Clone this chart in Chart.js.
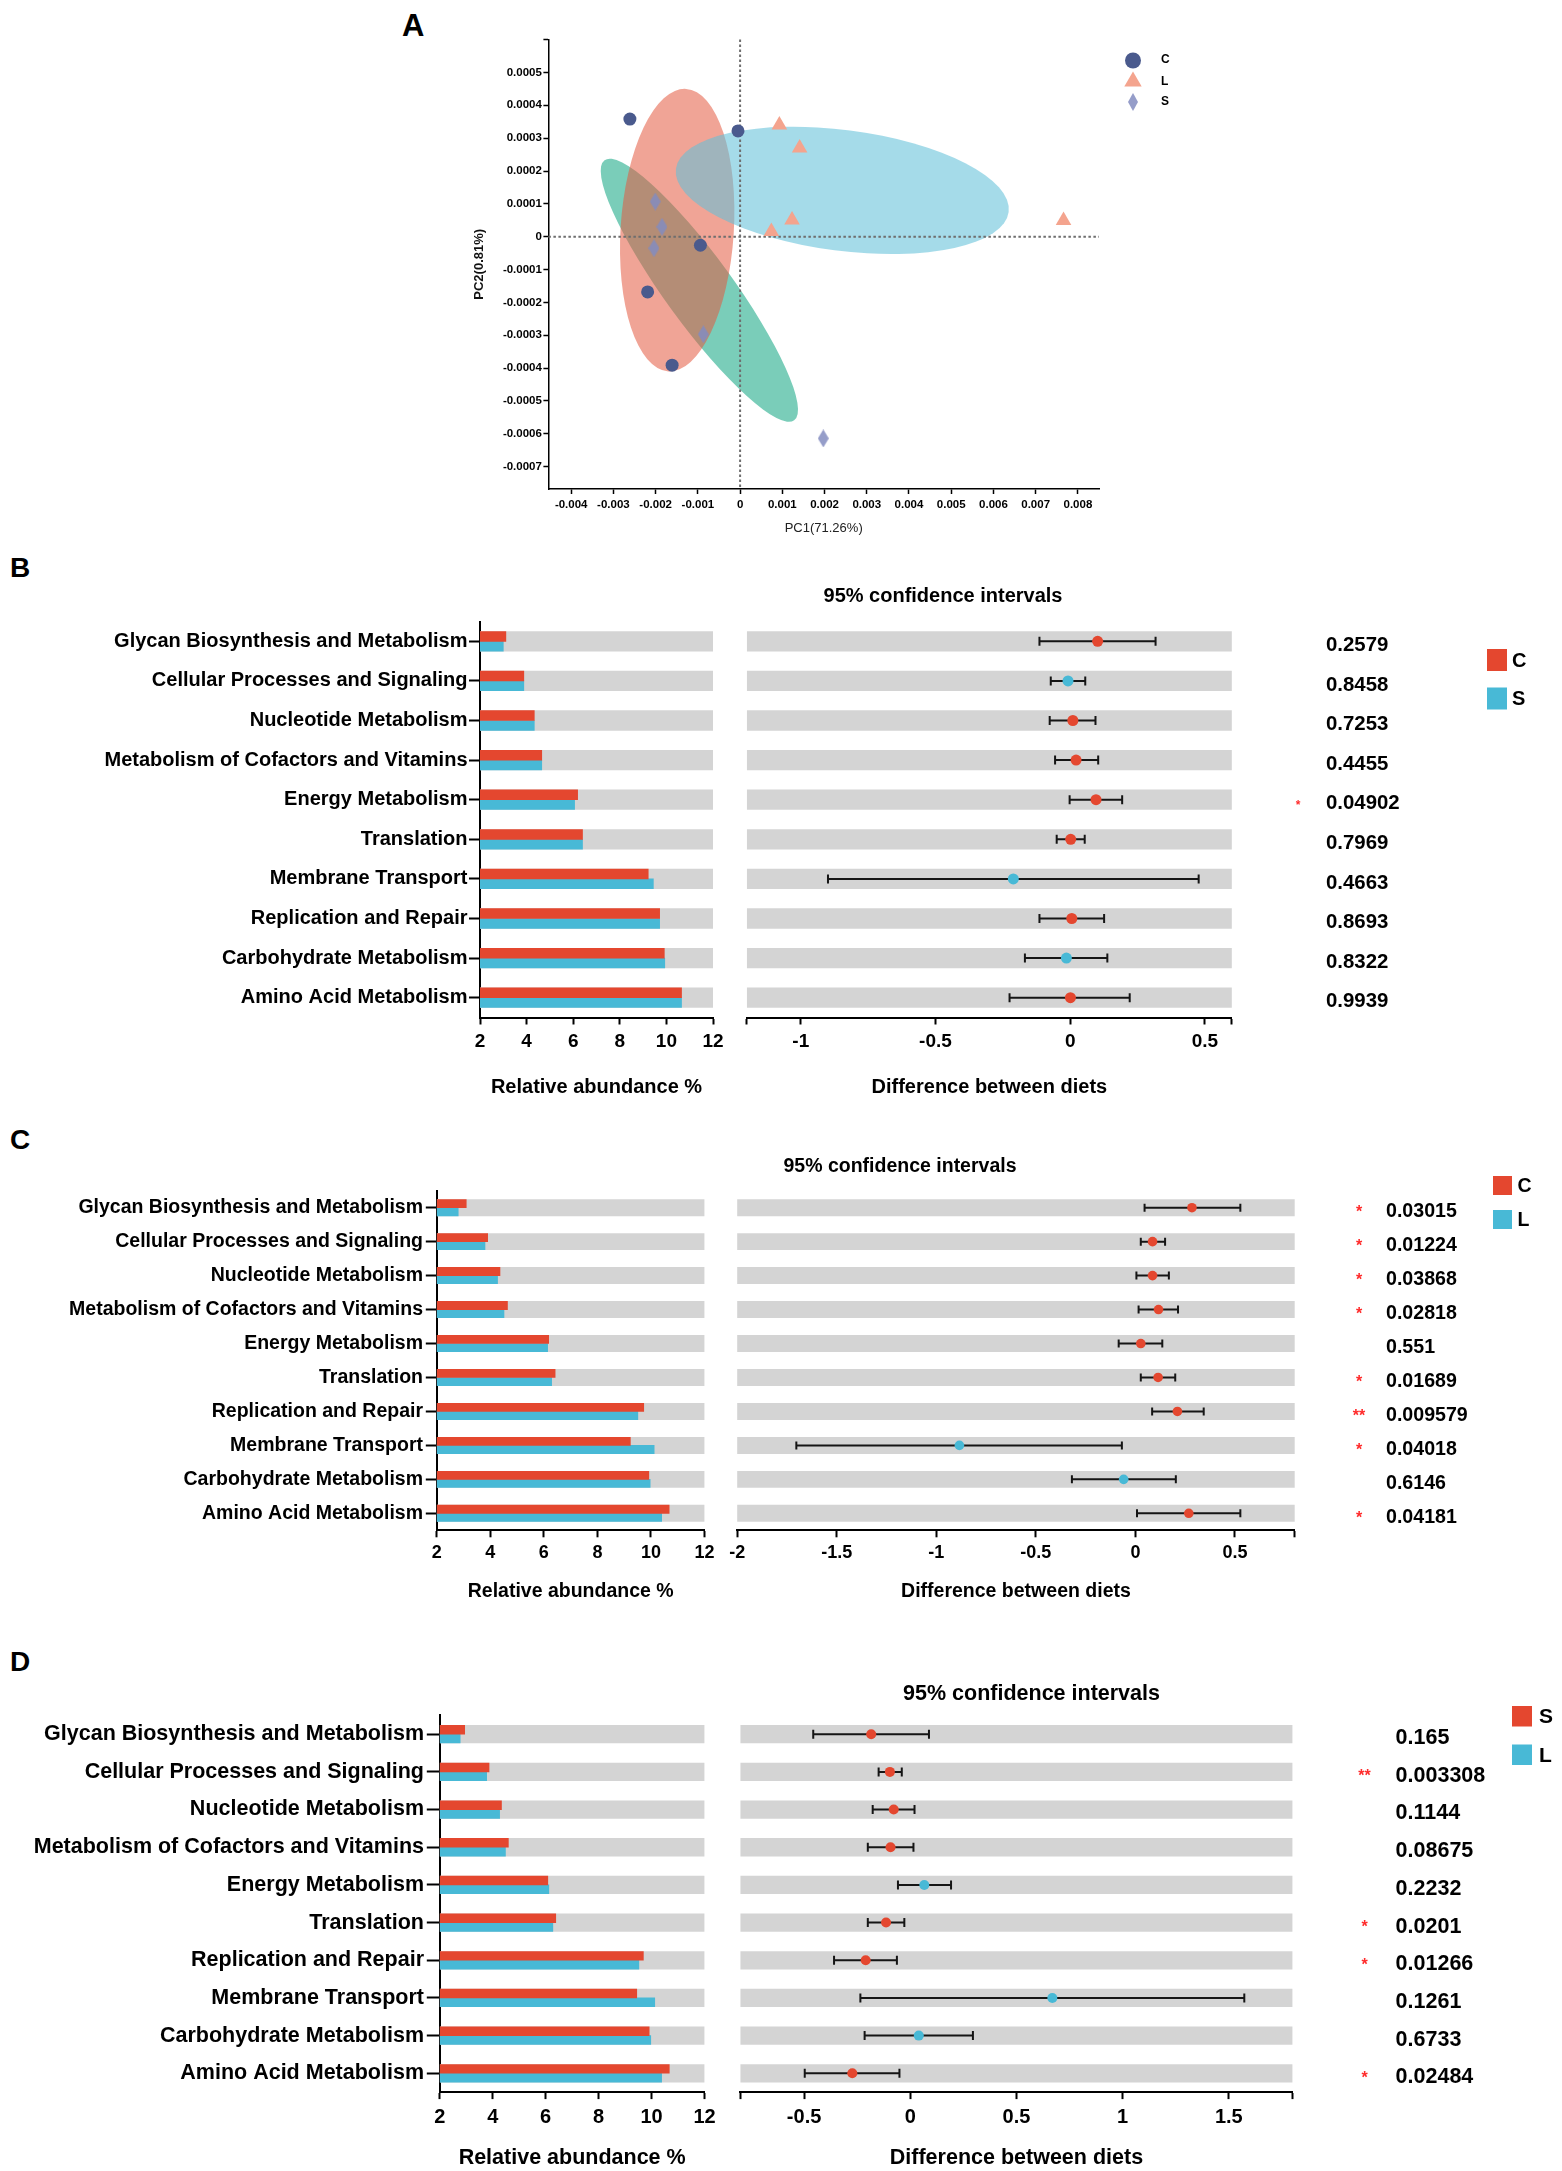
<!DOCTYPE html>
<html>
<head>
<meta charset="utf-8">
<script src="https://cdn.jsdelivr.net/npm/chart.js@4.4.0/dist/chart.umd.min.js"></script>
<style>
  html, body { margin: 0; padding: 0; background: #fff; }
  body { width: 1562px; height: 2171px; position: relative; overflow: hidden; font-family: "Liberation Sans", Arial, sans-serif; }
  .tag { position: absolute; font-weight: bold; line-height: 1; color: #000; }
</style>
</head>
<body>
<div class="tag" style="left:402px;top:10px;font-size:31px">A</div>
<div class="tag" style="left:10px;top:554px;font-size:28px">B</div>
<div class="tag" style="left:10px;top:1126px;font-size:28px">C</div>
<div class="tag" style="left:10px;top:1648px;font-size:28px">D</div>
<script>
(function () {
  "use strict";

  // ---- Panel A: PCA scores ----
  const pcaXC = [-0.00261, -0.00005, -0.00094, -0.00219, -0.00161];
  const pcaYC = [0.000358, 0.000322, -0.000026, -0.000168, -0.000391];
  const pcaXL = [0.00093, 0.00141, 0.00123, 0.00074, 0.00766];
  const pcaYL = [0.00034, 0.00027, 0.000051, 0.000016, 0.000049];
  const pcaXS = [-0.00201, -0.00185, -0.00204, -0.00087, 0.00197];
  const pcaYS = [0.000107, 0.00003, -0.000035, -0.000297, -0.000614];
  const pcaXTicks = [-0.004, -0.003, -0.002, -0.001, 0, 0.001, 0.002, 0.003, 0.004, 0.005, 0.006, 0.007, 0.008];
  const pcaYTicks = [0.0005, 0.0004, 0.0003, 0.0002, 0.0001, 0, -0.0001, -0.0002, -0.0003, -0.0004, -0.0005, -0.0006, -0.0007];
  const pcaXRange = [-0.00454, 0.0085];
  const pcaYRange = [-0.000768, 0.0006];
  // confidence ellipses: centre, end of major axis, minor/major ratio
  const ellS = { c: [-0.000965, -0.000163], tip: [0.00128, -0.000559], ratio: 0.21 };
  const ellC = { c: [-0.00149, 0.00002], tip: [-0.00128, 0.00045], ratio: 0.40 };
  const ellL = { c: [0.00242, 0.000141], tip: [0.00636, 0.0000755], ratio: 0.36 };

  // ---- Panels B-D: pathways ----
  const catsB = ["Glycan Biosynthesis and Metabolism", "Cellular Processes and Signaling", "Nucleotide Metabolism",
    "Metabolism of Cofactors and Vitamins", "Energy Metabolism", "Translation", "Membrane Transport",
    "Replication and Repair", "Carbohydrate Metabolism", "Amino Acid Metabolism"];
  const catsCD = ["Glycan Biosynthesis and Metabolism", "Cellular Processes and Signaling", "Nucleotide Metabolism",
    "Metabolism of Cofactors and Vitamins", "Energy Metabolism", "Translation", "Replication and Repair",
    "Membrane Transport", "Carbohydrate Metabolism", "Amino Acid Metabolism"];
  const abundRange = [2, 12];
  const abundTicks = [2, 4, 6, 8, 10, 12];

  // B: C vs S
  const bC = [3.11, 3.88, 4.33, 4.65, 6.19, 6.40, 9.22, 9.71, 9.91, 10.65];
  const bS = [3.00, 3.88, 4.33, 4.65, 6.06, 6.40, 9.44, 9.71, 9.93, 10.65];
  const bDiff = [0.102, -0.008, 0.010, 0.022, 0.096, 0.002, -0.211, 0.006, -0.014, 0.001];
  const bLow = [-0.114, -0.072, -0.076, -0.056, -0.002, -0.050, -0.899, -0.114, -0.168, -0.225];
  const bHigh = [0.317, 0.056, 0.094, 0.104, 0.193, 0.054, 0.477, 0.126, 0.138, 0.221];
  const bP = ["0.2579", "0.8458", "0.7253", "0.4455", "0.04902", "0.7969", "0.4663", "0.8693", "0.8322", "0.9939"];
  const bStars = ["", "", "", "", "*", "", "", "", "", ""];
  const bRange = [-1.2, 0.6];
  const bTicks = [-1, -0.5, 0, 0.5];

  // C: C vs L
  const cC = [3.10, 3.90, 4.36, 4.64, 6.18, 6.42, 9.73, 9.23, 9.92, 10.68];
  const cL = [2.80, 3.80, 4.27, 4.51, 6.14, 6.29, 9.51, 10.12, 9.97, 10.40];
  const cDiff = [0.284, 0.086, 0.086, 0.116, 0.027, 0.114, 0.211, -0.884, -0.059, 0.268];
  const cLow = [0.046, 0.027, 0.005, 0.016, -0.084, 0.027, 0.084, -1.703, -0.319, 0.008];
  const cHigh = [0.527, 0.149, 0.168, 0.214, 0.135, 0.200, 0.343, -0.068, 0.203, 0.527];
  const cP = ["0.03015", "0.01224", "0.03868", "0.02818", "0.551", "0.01689", "0.009579", "0.04018", "0.6146", "0.04181"];
  const cStars = ["*", "*", "*", "*", "", "*", "**", "*", "", "*"];
  const cRange = [-2, 0.8];
  const cTicks = [-2, -1.5, -1, -0.5, 0, 0.5];

  // D: S vs L
  const dS = [2.94, 3.86, 4.33, 4.59, 6.08, 6.38, 9.69, 9.44, 9.91, 10.67];
  const dL = [2.77, 3.77, 4.26, 4.48, 6.12, 6.27, 9.52, 10.12, 9.97, 10.38];
  const dDiff = [-0.184, -0.096, -0.078, -0.093, 0.066, -0.114, -0.210, 0.669, 0.040, -0.273];
  const dLow = [-0.457, -0.149, -0.177, -0.200, -0.058, -0.200, -0.359, -0.235, -0.215, -0.497];
  const dHigh = [0.088, -0.040, 0.020, 0.015, 0.192, -0.028, -0.063, 1.573, 0.295, -0.051];
  const dP = ["0.165", "0.003308", "0.1144", "0.08675", "0.2232", "0.0201", "0.01266", "0.1261", "0.6733", "0.02484"];
  const dStars = ["", "**", "", "", "", "*", "*", "", "", "*"];
  const dRange = [-0.8, 1.8];
  const dTicks = [-0.5, 0, 0.5, 1, 1.5];

  const FONT = '"Liberation Sans", Arial, sans-serif';
  const RED = "#e4472f";
  const BLUE = "#48b9d6";
  const BAND = "#d4d4d4";
  const PAGE_W = 1562;

  const addCanvas = (left, top, w, h) => {
    const c = document.createElement("canvas");
    c.width = w;
    c.height = h;
    c.style.cssText = "position:absolute;left:" + left + "px;top:" + top + "px;width:" + w + "px;height:" + h + "px;";
    document.body.appendChild(c);
    return c;
  };
  const bold = (size) => ({ family: FONT, size: size, weight: "bold" });

  const diamond = (w, h, color) => {
    const c = document.createElement("canvas");
    c.width = w;
    c.height = h;
    const g = c.getContext("2d");
    g.fillStyle = color;
    g.beginPath();
    g.moveTo(w / 2, 0);
    g.lineTo(w, h / 2);
    g.lineTo(w / 2, h);
    g.lineTo(0, h / 2);
    g.closePath();
    g.fill();
    return c;
  };

  // ---------- Panel A ----------
  const initPca = () => {
    const colC = "#4a5a8d", colL = "#f4a48e", colS = "rgba(130,140,192,0.85)";
    const diamondS = diamond(11, 18, colS);
    const diamondLeg = diamond(10, 18, colS);
    const ellipses = [
      [ellS, "rgba(13,164,128,0.55)"],
      [ellC, "rgba(228,90,64,0.55)"],
      [ellL, "rgba(97,192,216,0.57)"],
    ];
    const pts = (xs, ys) => xs.map((x, i) => ({ x: x, y: ys[i] }));

    const pcaPlugin = {
      id: "pcaDecor",
      beforeDatasetsDraw(chart) {
        const { ctx, chartArea, scales: { x, y } } = chart;
        ctx.save();
        ellipses.forEach(([e, color]) => {
          const cx = x.getPixelForValue(e.c[0]), cy = y.getPixelForValue(e.c[1]);
          const tx = x.getPixelForValue(e.tip[0]), ty = y.getPixelForValue(e.tip[1]);
          const a = Math.hypot(tx - cx, ty - cy);
          ctx.fillStyle = color;
          ctx.beginPath();
          ctx.ellipse(cx, cy, a, a * e.ratio, Math.atan2(ty - cy, tx - cx), 0, Math.PI * 2);
          ctx.fill();
        });
        const x0 = x.getPixelForValue(0), y0 = y.getPixelForValue(0);
        ctx.strokeStyle = "#6e6e6e";
        ctx.lineWidth = 2;
        ctx.setLineDash([2.5, 2.5]);
        ctx.beginPath();
        ctx.moveTo(x0, chartArea.top);
        ctx.lineTo(x0, chartArea.bottom);
        ctx.moveTo(chartArea.left, y0);
        ctx.lineTo(chartArea.right, y0);
        ctx.stroke();
        ctx.restore();
      },
      afterDraw(chart) {
        const ctx = chart.ctx;
        const lx = 1133 - 380, tx = 1161 - 380;
        ctx.save();
        ctx.fillStyle = colC;
        ctx.beginPath();
        ctx.arc(lx, 60.5, 8, 0, Math.PI * 2);
        ctx.fill();
        ctx.fillStyle = colL;
        ctx.beginPath();
        ctx.moveTo(lx, 81.6 - 10);
        ctx.lineTo(lx + 8.7, 81.6 + 5);
        ctx.lineTo(lx - 8.7, 81.6 + 5);
        ctx.closePath();
        ctx.fill();
        ctx.drawImage(diamondLeg, lx - 5, 102 - 9);
        ctx.fillStyle = "#000";
        ctx.font = "bold 12px " + FONT;
        ctx.textBaseline = "middle";
        ctx.fillText("C", tx, 60);
        ctx.fillText("L", tx, 81.6);
        ctx.fillText("S", tx, 102);
        ctx.restore();
      },
    };

    new Chart(addCanvas(380, 0, 820, 545), {
      type: "scatter",
      data: {
        datasets: [
          { label: "C", data: pts(pcaXC, pcaYC), pointStyle: "circle", pointRadius: 6.5, backgroundColor: colC, pointBorderWidth: 0 },
          { label: "L", data: pts(pcaXL, pcaYL), pointStyle: "triangle", pointRadius: 9, backgroundColor: colL, pointBorderWidth: 0 },
          { label: "S", data: pts(pcaXS, pcaYS), pointStyle: diamondS, pointRadius: 8, backgroundColor: colS, pointBorderWidth: 0 },
        ],
      },
      options: {
        responsive: false,
        animation: false,
        layout: { padding: { left: 92, top: 39.6, right: 101, bottom: 0 } },
        plugins: { legend: { display: false }, tooltip: { enabled: false } },
        scales: {
          x: {
            type: "linear",
            min: pcaXRange[0],
            max: pcaXRange[1],
            afterBuildTicks: (s) => { s.ticks = pcaXTicks.map((v) => ({ value: v })); },
            afterFit: (s) => { s.height = 56; },
            grid: { drawOnChartArea: false, tickLength: 5, tickColor: "#000", tickWidth: 1.5 },
            border: { color: "#000", width: 1.5 },
            ticks: { color: "#000", font: bold(11.5), padding: 3.5, maxRotation: 0, autoSkip: false,
              callback: (v) => (v === 0 ? "0" : v.toFixed(3)) },
            title: { display: true, text: "PC1(71.26%)", color: "#222", font: { family: FONT, size: 13 }, padding: { top: 0, bottom: 8.6 } },
          },
          y: {
            type: "linear",
            min: pcaYRange[0],
            max: pcaYRange[1],
            afterBuildTicks: (s) => { s.ticks = pcaYTicks.concat([pcaYRange[1]]).map((v) => ({ value: v })); },
            afterFit: (s) => { s.width = 76.4; },
            grid: { drawOnChartArea: false, tickLength: 5, tickColor: "#000", tickWidth: 1.5 },
            border: { color: "#000", width: 1.5 },
            ticks: { color: "#000", font: bold(11.5), padding: 1.5, autoSkip: false,
              callback: (v) => (pcaYTicks.includes(v) ? (v === 0 ? "0" : v.toFixed(4)) : "") },
            title: { display: true, text: "PC2(0.81%)", color: "#111", font: bold(13), padding: { top: 0, bottom: 0 } },
          },
        },
      },
      plugins: [pcaPlugin],
    });
  };

  // ---------- Panels B-D ----------
  const initPathwayPanel = (p, L) => {
    const textBlack = "#000";
    const canvasH = L.height;
    const xAxisH = L.top + L.height - L.chartBottom;

    // left: relative abundance bars
    new Chart(addCanvas(0, L.top, L.leftW, canvasH), {
      type: "bar",
      data: {
        labels: p.cats,
        datasets: [
          { data: p.first.map((v) => [abundRange[0], v]), backgroundColor: RED, barThickness: L.band / 2, order: 1 },
          { data: p.second.map((v) => [abundRange[0], v]), backgroundColor: BLUE, barThickness: L.band / 2, order: 1 },
          { data: p.cats.map(() => abundRange.slice()), backgroundColor: BAND, barThickness: L.band, grouped: false, order: 2 },
        ],
      },
      options: {
        indexAxis: "y",
        responsive: false,
        animation: false,
        layout: { padding: { left: 0, right: L.leftW - L.chartRight, top: L.chartTop - L.top, bottom: 0 } },
        plugins: { legend: { display: false }, tooltip: { enabled: false } },
        scales: {
          x: {
            type: "linear",
            min: abundRange[0],
            max: abundRange[1],
            afterBuildTicks: (s) => { s.ticks = abundTicks.map((v) => ({ value: v })); },
            afterFit: (s) => { s.height = xAxisH; },
            grid: { drawOnChartArea: false, tickLength: 7, tickColor: textBlack, tickWidth: 2 },
            border: { color: textBlack, width: 2 },
            ticks: { color: textBlack, font: bold(L.tick), padding: L.tickPad, maxRotation: 0, autoSkip: false },
            title: { display: true, text: "Relative abundance %", color: textBlack, font: bold(L.title), padding: { top: 0, bottom: L.titlePad } },
          },
          y: {
            type: "category",
            afterFit: (s) => { s.width = L.chartLeft; },
            grid: { drawOnChartArea: false, offset: false, tickLength: L.ytl, tickColor: textBlack, tickWidth: 2 },
            border: { color: textBlack, width: 2 },
            ticks: { color: textBlack, font: bold(L.cat), padding: L.ypad, autoSkip: false },
          },
        },
      },
    });

    // right: confidence intervals, p-values, legend
    const rightLeft = 720;
    const tickVals = [...new Set([p.range[0], ...p.ticks, p.range[1]])];
    const ciPlugin = {
      id: "ciDecor",
      beforeDatasetDraw(chart, args) {
        if (args.meta.type !== "line") return;
        const { ctx, scales: { x, y } } = chart;
        ctx.save();
        ctx.strokeStyle = "#151515";
        ctx.lineWidth = 2;
        p.low.forEach((lo, i) => {
          const yy = y.getPixelForValue(i);
          const x0 = x.getPixelForValue(lo), x1 = x.getPixelForValue(p.high[i]);
          ctx.beginPath();
          ctx.moveTo(x0, yy);
          ctx.lineTo(x1, yy);
          ctx.moveTo(x0, yy - L.cap);
          ctx.lineTo(x0, yy + L.cap);
          ctx.moveTo(x1, yy - L.cap);
          ctx.lineTo(x1, yy + L.cap);
          ctx.stroke();
        });
        ctx.restore();
      },
      afterDraw(chart) {
        const { ctx, scales: { y } } = chart;
        ctx.save();
        ctx.textBaseline = "middle";
        ctx.fillStyle = textBlack;
        ctx.font = "bold " + L.title + "px " + FONT;
        ctx.textAlign = "center";
        ctx.fillText("95% confidence intervals", L.ciTitle[0] - rightLeft, L.ciTitle[1] - L.top);
        ctx.textAlign = "left";
        ctx.font = "bold " + L.pFont + "px " + FONT;
        p.pvals.forEach((t, i) => {
          ctx.fillText(t, L.pX - rightLeft, y.getPixelForValue(i) + L.pDy);
        });
        ctx.fillStyle = "#ff2b2b";
        ctx.textAlign = "center";
        ctx.font = "bold " + L.starFont + "px " + FONT;
        p.stars.forEach((t, i) => {
          if (t) ctx.fillText(t, L.starX - rightLeft, y.getPixelForValue(i) + L.starDy);
        });
        const lg = L.legend;
        [[RED, p.names[0]], [BLUE, p.names[1]]].forEach(([col, name], k) => {
          ctx.fillStyle = col;
          ctx.fillRect(lg.x - rightLeft, lg.ys[k] - L.top, lg.w, lg.h);
          ctx.fillStyle = textBlack;
          ctx.textAlign = "left";
          ctx.font = "bold " + lg.font + "px " + FONT;
          ctx.fillText(name, lg.labelX - rightLeft, lg.ys[k] - L.top + lg.h / 2 + 1);
        });
        ctx.restore();
      },
    };

    new Chart(addCanvas(rightLeft, L.top, PAGE_W - rightLeft, canvasH), {
      type: "bar",
      data: {
        labels: p.cats,
        datasets: [
          {
            type: "line",
            indexAxis: "y",
            data: p.diff,
            showLine: false,
            pointRadius: L.dot,
            pointBorderWidth: 0,
            pointBackgroundColor: p.diff.map((v) => (v > 0 ? p.posColor : p.negColor)),
            pointBorderColor: p.diff.map((v) => (v > 0 ? p.posColor : p.negColor)),
            order: 0,
          },
          { type: "bar", data: p.cats.map(() => p.range.slice()), backgroundColor: BAND, barThickness: L.band, grouped: false, order: 2 },
        ],
      },
      options: {
        indexAxis: "y",
        responsive: false,
        animation: false,
        layout: { padding: { left: L.ciLeft - rightLeft, right: PAGE_W - L.ciRight, top: L.chartTop - L.top, bottom: 0 } },
        plugins: { legend: { display: false }, tooltip: { enabled: false } },
        scales: {
          x: {
            type: "linear",
            min: p.range[0],
            max: p.range[1],
            afterBuildTicks: (s) => { s.ticks = tickVals.map((v) => ({ value: v })); },
            afterFit: (s) => { s.height = xAxisH; },
            grid: { drawOnChartArea: false, tickLength: 7, tickColor: textBlack, tickWidth: 2 },
            border: { color: textBlack, width: 2 },
            ticks: { color: textBlack, font: bold(L.tick), padding: L.tickPad, maxRotation: 0, autoSkip: false,
              callback: (v) => (p.ticks.includes(v) ? String(v) : "") },
            title: { display: true, text: "Difference between diets", color: textBlack, font: bold(L.title), padding: { top: 0, bottom: L.titlePad } },
          },
          y: { type: "category", display: false },
        },
      },
      plugins: [ciPlugin],
    });
  };

  document.addEventListener("DOMContentLoaded", () => {
    initPca();

    initPathwayPanel(
      { cats: catsB, first: bC, second: bS, diff: bDiff, low: bLow, high: bHigh, pvals: bP, stars: bStars,
        range: bRange, ticks: bTicks, names: ["C", "S"], posColor: RED, negColor: BLUE },
      { top: 545, height: 565, leftW: 740, chartLeft: 480, chartRight: 713, chartTop: 621.5, chartBottom: 1017.5,
        band: 19.6, cat: 20, tick: 19, title: 20, ytl: 11, ypad: 1.5, tickPad: 6, titlePad: 11,
        ciLeft: 746.9, ciRight: 1231.8, ciTitle: [943, 596], pX: 1326, pFont: 20.4, pDy: 4,
        starX: 1298, starDy: 6, starFont: 12, dot: 5.5, cap: 4.5,
        legend: { x: 1487, w: 20, h: 22, ys: [649, 687.5], labelX: 1512, font: 20 } }
    );

    initPathwayPanel(
      { cats: catsCD, first: cC, second: cL, diff: cDiff, low: cLow, high: cHigh, pvals: cP, stars: cStars,
        range: cRange, ticks: cTicks, names: ["C", "L"], posColor: RED, negColor: BLUE },
      { top: 1110, height: 500, leftW: 740, chartLeft: 436.8, chartRight: 704.5, chartTop: 1190.7, chartBottom: 1530.3,
        band: 16.3, cat: 19.5, tick: 18, title: 19.5, ytl: 11, ypad: 2.8, tickPad: 5, titlePad: 6.6,
        ciLeft: 737.2, ciRight: 1294.7, ciTitle: [900, 1167], pX: 1386, pFont: 19.6, pDy: 4,
        starX: 1359, starDy: 5, starFont: 16, dot: 4.8, cap: 4,
        legend: { x: 1493, w: 19, h: 19, ys: [1176, 1210], labelX: 1517.5, font: 19.5 } }
    );

    initPathwayPanel(
      { cats: catsCD, first: dS, second: dL, diff: dDiff, low: dLow, high: dHigh, pvals: dP, stars: dStars,
        range: dRange, ticks: dTicks, names: ["S", "L"], posColor: BLUE, negColor: RED },
      { top: 1610, height: 561, leftW: 740, chartLeft: 439.8, chartRight: 704.5, chartTop: 1715.4, chartBottom: 2092.1,
        band: 17.6, cat: 21.5, tick: 20, title: 21.5, ytl: 13, ypad: 2.8, tickPad: 6, titlePad: 0.5,
        ciLeft: 740.4, ciRight: 1292.5, ciTitle: [1031.5, 1693.8], pX: 1395.6, pFont: 21.5, pDy: 4,
        starX: 1364.5, starDy: 5, starFont: 16, dot: 5, cap: 4.5,
        legend: { x: 1512, w: 20, h: 20.5, ys: [1706, 1744.5], labelX: 1539, font: 21 } }
    );
  });
})();
</script>
</body>
</html>
